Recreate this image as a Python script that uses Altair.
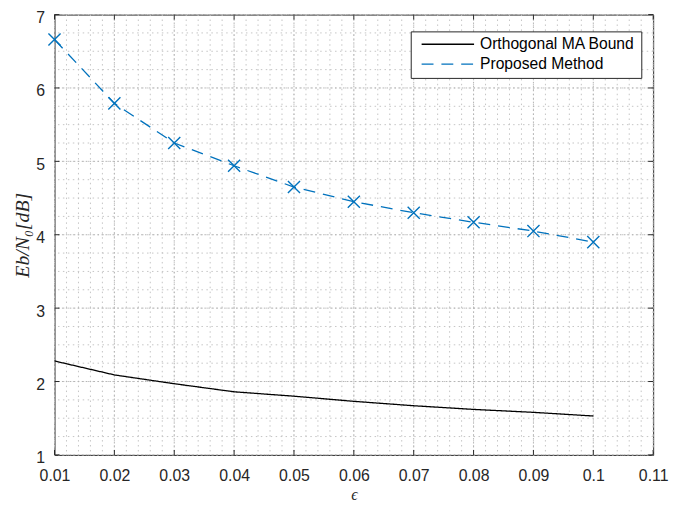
import altair as alt
import pandas as pd

eps = [0.01, 0.02, 0.03, 0.04, 0.05, 0.06, 0.07, 0.08, 0.09, 0.10]
bound = [2.28, 2.09, 1.97, 1.86, 1.80, 1.73, 1.67, 1.62, 1.58, 1.53]
proposed = [6.66, 5.79, 5.25, 4.94, 4.65, 4.45, 4.30, 4.17, 4.05, 3.90]
series_names = ["Orthogonal MA Bound", "Proposed Method"]
x_ticks = [0.01, 0.02, 0.03, 0.04, 0.05, 0.06, 0.07, 0.08, 0.09, 0.10, 0.11]
y_ticks = [1, 2, 3, 4, 5, 6, 7]
x_minor = [round(0.01 + 0.002 * k, 3) for k in range(51)]
y_minor = [1 + 0.25 * k for k in range(25)]

W, H = 605, 445
blue = "#0072BD"
frame = "#262626"

df = pd.DataFrame({
    "eps": eps * 2,
    "val": bound + proposed,
    "series": [series_names[0]] * len(eps) + [series_names[1]] * len(eps),
})
dfp = pd.DataFrame({"eps": eps, "val": proposed})

xs = alt.Scale(domain=[0.01, 0.11], nice=False)
ys = alt.Scale(domain=[1, 7], nice=False)

xaxis = alt.Axis(values=x_ticks, format="~g", grid=False, ticks=False, domain=False,
                 labelFlush=False,
                 labelFont="Liberation Sans", labelFontSize=16, labelColor=frame,
                 labelPadding=13, title="ϵ", titleFont="Liberation Serif",
                 titleFontSize=16, titleFontWeight="normal", titleFontStyle="italic",
                 titleColor=frame, titleBaseline="alphabetic", titleY=45)
yaxis = alt.Axis(values=y_ticks, format="~g", grid=False, ticks=False, domain=False,
                 labelFlush=False, labelOffset=3,
                 labelFont="Liberation Sans", labelFontSize=16, labelColor=frame,
                 labelPadding=10, title="Eb/N₀[dB]", titleFont="Liberation Serif",
                 titleFontSize=20, titleFontWeight="normal", titleFontStyle="italic",
                 titleColor=frame, titleBaseline="alphabetic", titleX=-26, titleY=H / 2)

gx_minor = alt.Chart(pd.DataFrame({"x": x_minor})).mark_rule(
    color="#c4c4c4", strokeWidth=1, strokeDash=[1.5, 3.5]).encode(
    x=alt.X("x:Q", scale=xs, axis=xaxis))
gy_minor = alt.Chart(pd.DataFrame({"y": y_minor})).mark_rule(
    color="#c4c4c4", strokeWidth=1, strokeDash=[1.5, 3.5]).encode(
    y=alt.Y("y:Q", scale=ys, axis=yaxis))
gx_major = alt.Chart(pd.DataFrame({"x": x_ticks})).mark_rule(
    color="#b4b4b4", strokeWidth=1, strokeDash=[1.5, 2.5]).encode(x=alt.X("x:Q", scale=xs))
gy_major = alt.Chart(pd.DataFrame({"y": y_ticks})).mark_rule(
    color="#b4b4b4", strokeWidth=1, strokeDash=[1.5, 2.5]).encode(y=alt.Y("y:Q", scale=ys))

tdx = pd.DataFrame({"x": x_ticks})
tdy = pd.DataFrame({"y": y_ticks})
tick_b = alt.Chart(tdx).mark_rule(color=frame).encode(
    x=alt.X("x:Q", scale=xs), y=alt.value(H), y2=alt.value(H - 5))
tick_t = alt.Chart(tdx).mark_rule(color=frame).encode(
    x=alt.X("x:Q", scale=xs), y=alt.value(0), y2=alt.value(5))
tick_l = alt.Chart(tdy).mark_rule(color=frame).encode(
    y=alt.Y("y:Q", scale=ys), x=alt.value(0), x2=alt.value(5))
tick_r = alt.Chart(tdy).mark_rule(color=frame).encode(
    y=alt.Y("y:Q", scale=ys), x=alt.value(W), x2=alt.value(W - 5))

lines = alt.Chart(df).mark_line(strokeWidth=1.3).encode(
    x=alt.X("eps:Q", scale=xs),
    y=alt.Y("val:Q", scale=ys),
    color=alt.Color("series:N", scale=alt.Scale(domain=series_names, range=["#000000", blue]),
                    legend=alt.Legend(title=None)),
    strokeDash=alt.StrokeDash("series:N",
                              scale=alt.Scale(domain=series_names, range=[[1, 0], [12, 8]]),
                              legend=alt.Legend(title=None)),
)
points = alt.Chart(dfp).mark_point(
    shape="M-1,-1L1,1M-1,1L1,-1", size=150, filled=False, color=blue, strokeWidth=1.4,
    opacity=1
).encode(x=alt.X("eps:Q", scale=xs), y=alt.Y("val:Q", scale=ys))

chart = alt.layer(
    gx_minor, gy_minor, gx_major, gy_major, tick_b, tick_t, tick_l, tick_r, lines, points
).properties(
    width=W, height=H,
    autosize=alt.AutoSizeParams(type="none"),
    padding={"left": 47, "top": 4, "right": 16, "bottom": 50},
).configure_view(
    stroke=frame, strokeWidth=1
).configure_legend(
    orient="none", legendX=360, legendY=17, fillColor="white", strokeColor=frame,
    padding=6, symbolType="stroke", symbolSize=2809, symbolStrokeWidth=1.3,
    symbolOffset=4, clipHeight=14, rowPadding=4, labelOffset=5,
    labelFont="Liberation Sans", labelFontSize=15.8, labelColor="#000000",
    labelLimit=300,
)

chart.save("out.html", embed_options={"renderer": "svg", "actions": False})
